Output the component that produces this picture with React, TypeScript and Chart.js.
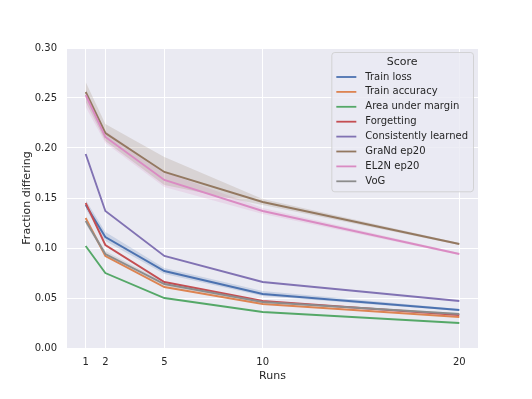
import React, { useEffect, useRef } from "react";
import { Chart, registerables } from "chart.js";

Chart.register(...registerables);

const RUNS = [1, 2, 5, 10, 20];
const Y_TICKS = [0, 0.05, 0.1, 0.15, 0.2, 0.25, 0.3];

const SERIES_NAMES = [
  "Train loss",
  "Train accuracy",
  "Area under margin",
  "Forgetting",
  "Consistently learned",
  "GraNd ep20",
  "EL2N ep20",
  "VoG",
];
const COLORS = ["#4c72b0", "#dd8452", "#55a868", "#c44e52", "#8172b3", "#937860", "#da8bc3", "#8c8c8c"];

const trainLoss = [0.143, 0.111, 0.077, 0.054, 0.038];
const trainAccuracy = [0.13, 0.092, 0.061, 0.044, 0.031];
const areaUnderMargin = [0.102, 0.075, 0.05, 0.036, 0.025];
const forgetting = [0.145, 0.103, 0.066, 0.047, 0.033];
const consistentlyLearned = [0.194, 0.137, 0.092, 0.066, 0.047];
const grandEp20 = [0.256, 0.215, 0.176, 0.146, 0.104];
const el2nEp20 = [0.253, 0.211, 0.168, 0.137, 0.094];
const vog = [0.127, 0.094, 0.064, 0.046, 0.034];

const SERIES = [trainLoss, trainAccuracy, areaUnderMargin, forgetting, consistentlyLearned, grandEp20, el2nEp20, vog];

// confidence bands (lower, upper), indexed by series
const trainLossLow = [0.139, 0.107, 0.074, 0.052, 0.037];
const trainLossHigh = [0.148, 0.116, 0.08, 0.057, 0.039];
const grandLow = [0.246, 0.207, 0.163, 0.143, 0.103];
const grandHigh = [0.266, 0.224, 0.191, 0.149, 0.105];
const el2nLow = [0.241, 0.205, 0.161, 0.134, 0.093];
const el2nHigh = [0.259, 0.217, 0.176, 0.14, 0.095];
const vogLow = [0.124, 0.092, 0.062, 0.045, 0.033];
const vogHigh = [0.13, 0.097, 0.066, 0.047, 0.035];

const BANDS: [number, number[], number[]][] = [
  [0, trainLossLow, trainLossHigh],
  [5, grandLow, grandHigh],
  [6, el2nLow, el2nHigh],
  [7, vogLow, vogHigh],
];

const FONT = "'DejaVu Sans', sans-serif";
const TEXT = "#262626";

function hexA(hex: string, a: number) {
  const n = parseInt(hex.slice(1), 16);
  return `rgba(${(n >> 16) & 255},${(n >> 8) & 255},${n & 255},${a})`;
}

const bgPlugin = {
  id: "bg",
  beforeDraw(chart: any) {
    const { ctx, chartArea: a } = chart;
    ctx.save();
    ctx.fillStyle = "#ffffff";
    ctx.fillRect(0, 0, chart.width, chart.height);
    ctx.fillStyle = "#eaeaf2";
    ctx.fillRect(a.left, a.top, a.right - a.left, a.bottom - a.top);
    ctx.restore();
  },
};

const legendPlugin = {
  id: "seabornLegend",
  afterDraw(chart: any) {
    const { ctx, chartArea: a } = chart;
    ctx.save();
    ctx.font = `10px ${FONT}`;
    let maxW = 0;
    SERIES_NAMES.forEach((n) => (maxW = Math.max(maxW, ctx.measureText(n).width)));
    const w = 5 + 20 + 9 + maxW + 5;
    const rowH = 14.9;
    const h = 25 + (SERIES_NAMES.length - 1) * rowH + 10;
    const x0 = a.right - 5 - w;
    const y0 = a.top + 4;
    ctx.fillStyle = "rgba(234,234,242,0.8)";
    ctx.strokeStyle = "rgba(204,204,204,0.8)";
    ctx.lineWidth = 1;
    ctx.beginPath();
    (ctx as any).roundRect(x0 + 0.5, y0 + 0.5, w, h, 3);
    ctx.fill();
    ctx.stroke();
    ctx.fillStyle = TEXT;
    ctx.textBaseline = "middle";
    ctx.textAlign = "center";
    ctx.font = `11px ${FONT}`;
    ctx.fillText("Score", x0 + w / 2, y0 + 10);
    ctx.textAlign = "left";
    ctx.font = `10px ${FONT}`;
    SERIES_NAMES.forEach((n, i) => {
      const y = y0 + 25 + i * rowH;
      ctx.strokeStyle = COLORS[i];
      ctx.lineWidth = 1.8;
      ctx.beginPath();
      ctx.moveTo(x0 + 5, y);
      ctx.lineTo(x0 + 25, y);
      ctx.stroke();
      ctx.fillStyle = TEXT;
      ctx.fillText(n, x0 + 34, y);
    });
    ctx.restore();
  },
};

export default function App() {
  const ref = useRef<HTMLCanvasElement>(null);
  useEffect(() => {
    if (!ref.current) return;
    const datasets: any[] = [];
    SERIES.forEach((vals, i) => {
      datasets.push({
        label: SERIES_NAMES[i],
        data: RUNS.map((r, j) => ({ x: r, y: vals[j] })),
        borderColor: COLORS[i],
        backgroundColor: COLORS[i],
        borderWidth: 1.9,
        pointRadius: 0,
        fill: false,
        tension: 0,
        order: 10 - i,
      });
    });
    BANDS.forEach(([si, lo, hi]) => {
      const loIdx = datasets.length;
      datasets.push({
        label: SERIES_NAMES[si] + " low",
        data: RUNS.map((r, j) => ({ x: r, y: lo[j] })),
        borderWidth: 0,
        borderColor: "rgba(0,0,0,0)",
        pointRadius: 0,
        fill: false,
        order: 50,
      });
      datasets.push({
        label: SERIES_NAMES[si] + " high",
        data: RUNS.map((r, j) => ({ x: r, y: hi[j] })),
        borderWidth: 0,
        borderColor: "rgba(0,0,0,0)",
        backgroundColor: hexA(COLORS[si], 0.2),
        pointRadius: 0,
        fill: loIdx,
        order: 50,
      });
    });

    const chart = new Chart(ref.current, {
      type: "line",
      data: { datasets },
      plugins: [bgPlugin, legendPlugin],
      options: {
        animation: false,
        responsive: false,
        maintainAspectRatio: false,
        layout: { padding: { left: 0, top: 48, right: 54, bottom: 0 } },
        plugins: {
          legend: { display: false },
          tooltip: { enabled: false },
          filler: { propagate: false },
        },
        scales: {
          x: {
            type: "linear",
            min: 0.05,
            max: 20.95,
            afterBuildTicks: (s: any) => {
              s.ticks = RUNS.map((v) => ({ value: v }));
            },
            afterFit: (s: any) => {
              s.height = 51;
            },
            grid: { color: "#ffffff", lineWidth: 1, drawTicks: false },
            border: { display: false },
            ticks: {
              color: TEXT,
              font: { family: FONT, size: 10 },
              padding: 8,
              maxRotation: 0,
              autoSkip: false,
              callback: (v: any) => String(v),
            },
            title: {
              display: true,
              text: "Runs",
              color: TEXT,
              font: { family: FONT, size: 11 },
              padding: { top: 0, bottom: 16 },
            },
          },
          y: {
            min: 0,
            max: 0.3,
            afterBuildTicks: (s: any) => {
              s.ticks = Y_TICKS.map((v) => ({ value: v }));
            },
            afterFit: (s: any) => {
              s.width = 67;
            },
            grid: { color: "#ffffff", lineWidth: 1, drawTicks: false },
            border: { display: false },
            ticks: {
              color: TEXT,
              font: { family: FONT, size: 10 },
              padding: 10,
              callback: (v: any) => Number(v).toFixed(2),
            },
            title: {
              display: true,
              text: "Fraction differing",
              color: TEXT,
              font: { family: FONT, size: 11 },
              padding: { top: 21, bottom: 0 },
            },
          },
        },
      },
    });
    return () => chart.destroy();
  }, []);

  return (
    <div style={{ position: "fixed", left: 0, top: 0, width: 532, height: 399, background: "#fff" }}>
      <canvas ref={ref} width={532} height={399} style={{ display: "block", width: 532, height: 399 }} />
    </div>
  );
}
